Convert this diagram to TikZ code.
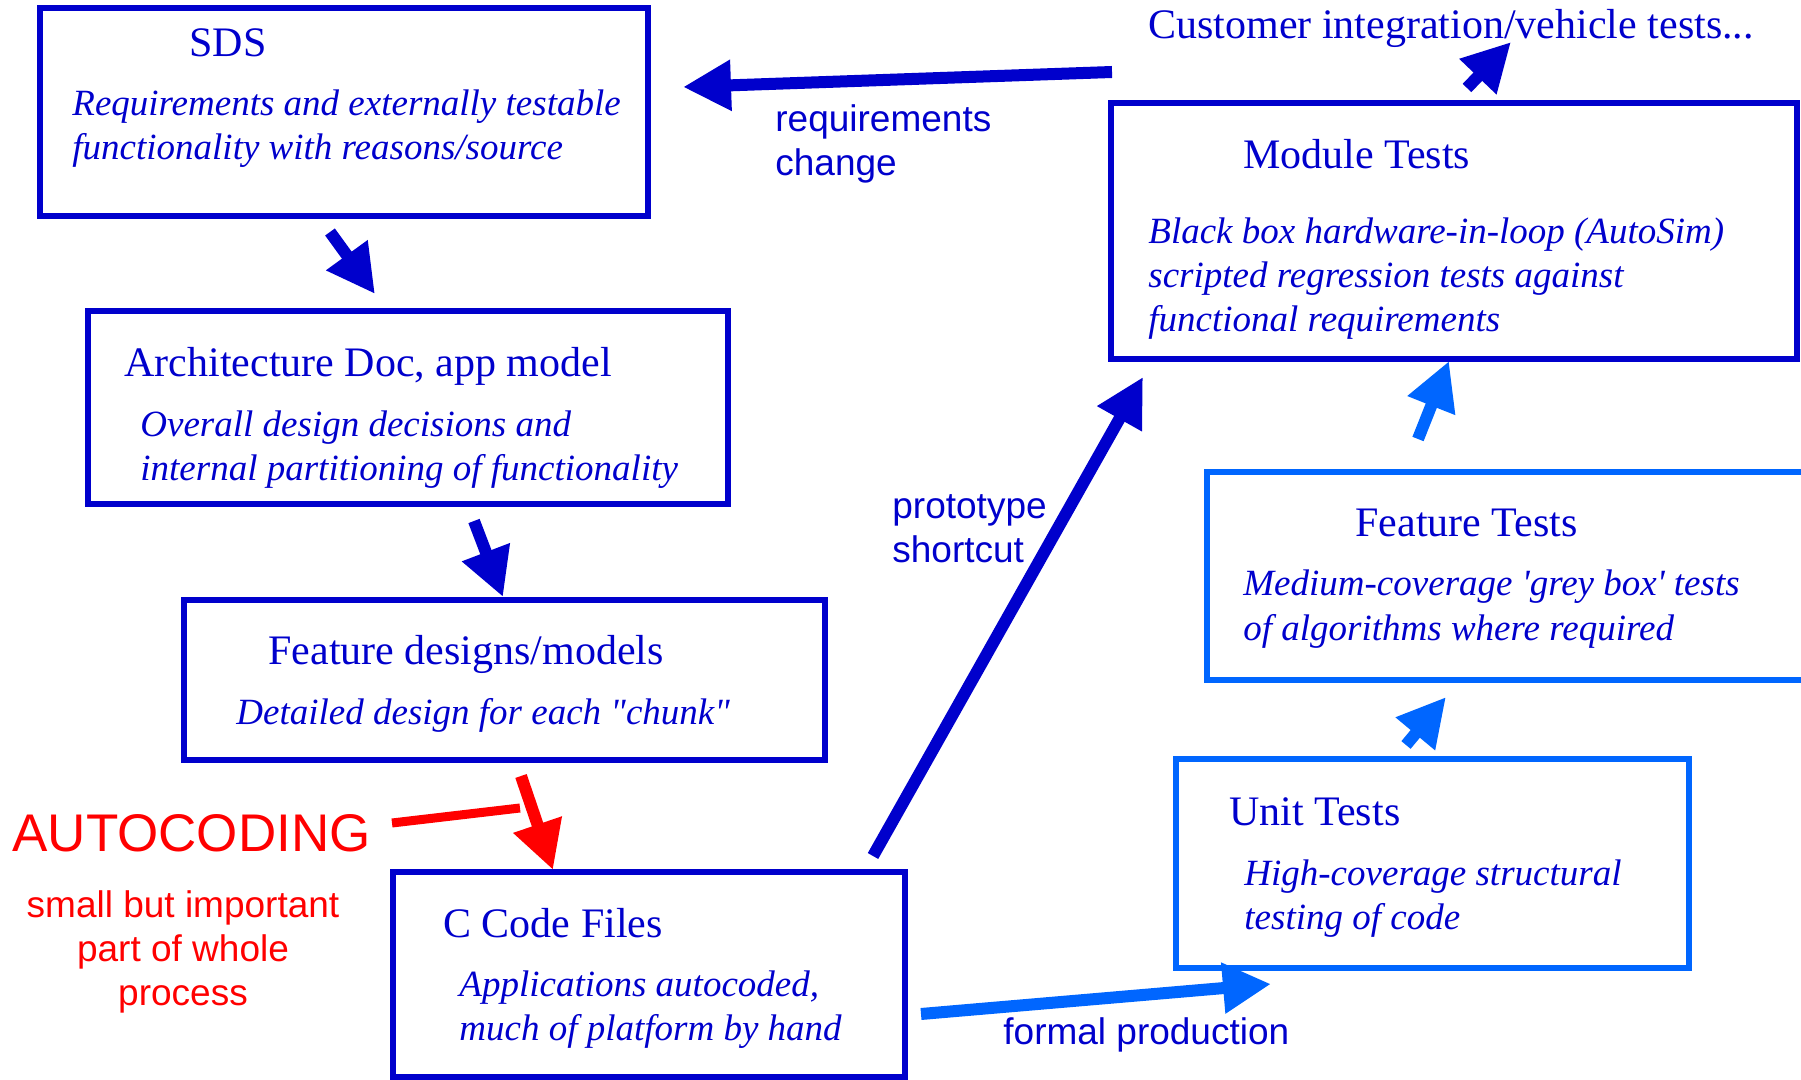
\documentclass[tikz,border=0pt]{standalone}
\usepackage{fontspec}
\setmainfont{Liberation Serif}
\setsansfont{Liberation Sans}
\usetikzlibrary{arrows.meta,fit}
\definecolor{dblue}{RGB}{0,0,204}
\definecolor{lblue}{RGB}{0,102,255}
\definecolor{ared}{RGB}{255,0,0}
\begin{document}
\begin{tikzpicture}[x=0.5pt,y=-0.5pt,
  box/.style={draw, line width=2.75pt, inner sep=0pt, outer sep=0pt, rectangle},
  dbox/.style={box, draw=dblue},
  lbox/.style={box, draw=lblue},
  ttl/.style={anchor=base west, inner sep=0pt, text=dblue, font=\fontsize{21}{22}\selectfont},
  desc/.style={anchor=base west, inner sep=0pt, text=dblue, align=left, font=\fontsize{18.5}{22}\selectfont\itshape},
  lbl/.style={anchor=base west, inner sep=0pt, text=dblue, align=left, font=\sffamily\fontsize{18.5}{22}\selectfont},
  arr/.style={line width=6pt, -{Triangle[length=24pt,width=24pt]}},
]
\useasboundingbox (0,0) rectangle (1801,1080);
\clip (0,0) rectangle (1801,1080);

% boxes
\node[dbox, fit={(40,8) (648,216)}] (sds) {};
\node[dbox, fit={(88,311) (728,504)}] (arch) {};
\node[dbox, fit={(184,600) (825,760)}] (feat) {};
\node[dbox, fit={(393,872) (905,1077)}] (code) {};
\node[dbox, fit={(1111,103) (1797,359)}] (mod) {};
\node[lbox, fit={(1207,472) (1840,680)}] (ftest) {};
\node[lbox, fit={(1176,759) (1689,968)}] (utest) {};

% texts (base anchor of a multi-line node = baseline of its last line)
\node[ttl] (sdsT) at (189,57) {SDS};
\node[desc] (sdsD) at (72,160) {Requirements and externally testable\\functionality with reasons/source};
\node[ttl] (archT) at (124,377) {Architecture Doc, app model};
\node[desc] (archD) at (140,481) {Overall design decisions and\\internal partitioning of functionality};
\node[ttl] (featT) at (268,665) {Feature designs/models};
\node[desc] (featD) at (236,725) {Detailed design for each \textquotedbl chunk\textquotedbl};
\node[ttl] (codeT) at (443,937) {C Code Files};
\node[desc] (codeD) at (459,1040) {Applications autocoded,\\much of platform by hand};
\node[ttl] (cust) at (1148,39) {Customer integration/vehicle tests...};
\node[ttl] (modT) at (1243,169) {Module Tests};
\node[desc] (modD) at (1148,332) {Black box hardware-in-loop (AutoSim)\\scripted regression tests against\\functional requirements};
\node[ttl] (ftT) at (1355,537) {Feature Tests};
\node[desc] (ftD) at (1243,640) {Medium-coverage \textquotesingle grey box\textquotesingle{} tests\\of algorithms where required};
\node[ttl] (utT) at (1229,825) {Unit Tests};
\node[desc] (utD) at (1244,929) {High-coverage structural\\testing of code};
\node[lbl] (rc) at (775,176) {requirements\\change};
\node[lbl] (ps) at (892,563) {prototype\\shortcut};
\node[lbl] (fp) at (1003,1044) {formal production};
\node[anchor=base west, inner sep=0pt, text=ared, font=\sffamily\fontsize{26.5}{30}\selectfont] (auto) at (12,851) {AUTOCODING};
\node[anchor=base, inner sep=0pt, text=ared, align=center, font=\sffamily\fontsize{18.5}{22}\selectfont] (autoD) at (183,1005) {small but important\\part of whole\\process};

% arrow end points
\coordinate (rcA) at (1112,72);   \coordinate (rcB) at (683,87);
\coordinate (saA) at (330,232);   \coordinate (saB) at (375,294);
\coordinate (afA) at (474,521);   \coordinate (afB) at (503,597);
\coordinate (fcA) at (521,776);   \coordinate (fcB) at (553,870);
\coordinate (alA) at (392,823);   \coordinate (alB) at (520,808);
\coordinate (psA) at (873,856);   \coordinate (psB) at (1143,377);
\coordinate (fpA) at (921,1014);  \coordinate (fpB) at (1271,984);
\coordinate (ufA) at (1406,745);  \coordinate (ufB) at (1446,697);
\coordinate (fmA) at (1418,439);  \coordinate (fmB) at (1449,361);
\coordinate (mcA) at (1467,88);   \coordinate (mcB) at (1511,42);

% arrows
\draw[arr, dblue] (rcA) -- (rcB);
\draw[arr, dblue] (saA) -- (saB);
\draw[arr, dblue] (afA) -- (afB);
\draw[line width=4.5pt, ared] (alA) -- (alB);
\draw[arr, ared] (fcA) -- (fcB);
\draw[arr, dblue] (psA) -- (psB);
\draw[arr, lblue] (fpA) -- (fpB);
\draw[arr, lblue] (ufA) -- (ufB);
\draw[arr, lblue] (fmA) -- (fmB);
\draw[arr, dblue] (mcA) -- (mcB);
\end{tikzpicture}
\end{document}
